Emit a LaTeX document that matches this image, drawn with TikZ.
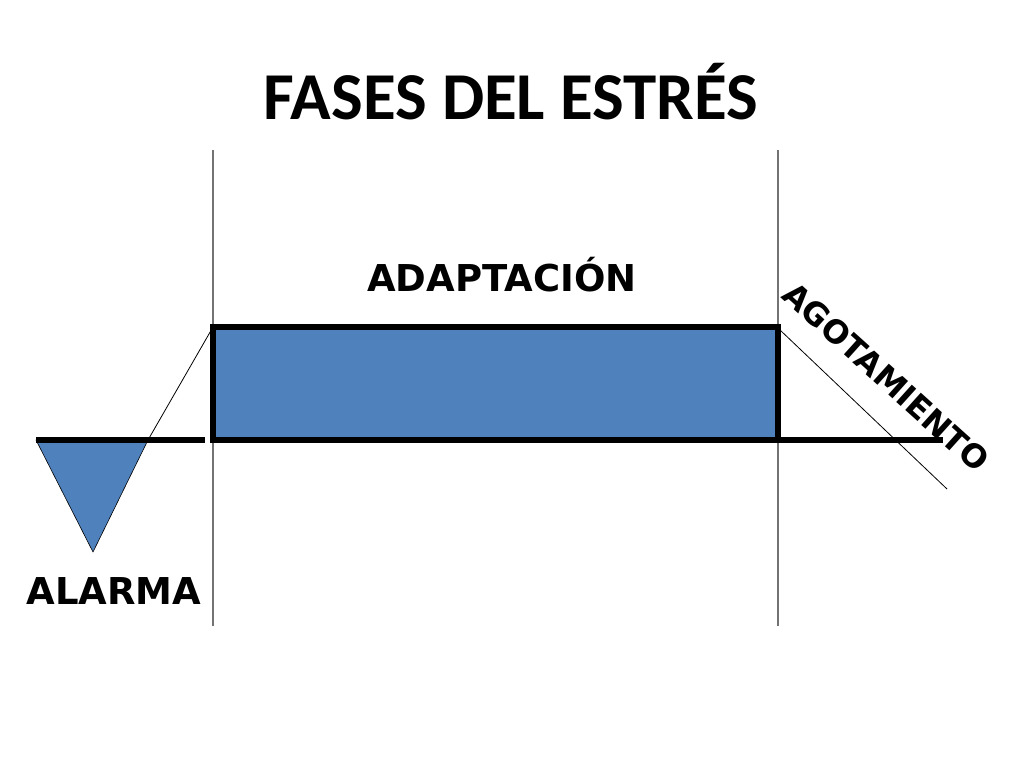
\documentclass[tikz,border=0pt]{standalone}
\usepackage{fontspec}
\setmainfont{Carlito}
\newfontfamily\labelfont{DejaVu Sans}
\usetikzlibrary{positioning}
\definecolor{faseblue}{RGB}{79,129,189}

\begin{document}
\begin{tikzpicture}[x=1pt,y=-1pt,{fase/.style={fill=faseblue,draw=black}},{divline/.style={color=gray!90!black,line width=1.2pt}},{labeltext/.style={font=\labelfont\bfseries\fontsize{37}{42}\selectfont,inner sep=0pt}}]
	\useasboundingbox (0,0) rectangle (1024,768);
	%%coordinates of the phases
	\coordinate (A) at (213,327);
	\coordinate (B) at (778,327);
	\coordinate (C) at (778,440);
	\coordinate (D) at (213,440);
	\coordinate (L) at (36,440);
	\coordinate (M) at (148,440);
	\coordinate (N) at (93,552);
	\coordinate (R) at (943,440);
	%%title
	\node [font=\bfseries\fontsize{67}{80}\selectfont] (title) at (511,92) {FASES DEL ESTRÉS};
	%%division lines
	\draw [divline] (213,150) -- (213,626);
	\draw [divline] (778,150) -- (778,626);
	%%alarma
	\draw [fase,line width=0.6pt,line join=round] (L) -- (M) -- (N) -- cycle;
	\draw [line width=5.5pt] (L) -- (205,440);
	\draw [line width=0.8pt] (M) -- (A);
	%%adaptacion
	\draw [fase,line width=6pt] (A) rectangle (C);
	\draw [line width=5.5pt] (C) -- (R);
	%%agotamiento
	\draw [line width=0.8pt] (780,330) -- (947,489);
	%%labels
	\node [labeltext] (alarma) at (114,591) {ALARMA};
	\node [labeltext] (adaptacion) at (502,275) {ADAPTACIÓN};
	\node [labeltext,font=\labelfont\bfseries\fontsize{32}{36}\selectfont,rotate=-42] (agotamiento) at (886,377) {AGOTAMIENTO};
\end{tikzpicture}
\end{document}
